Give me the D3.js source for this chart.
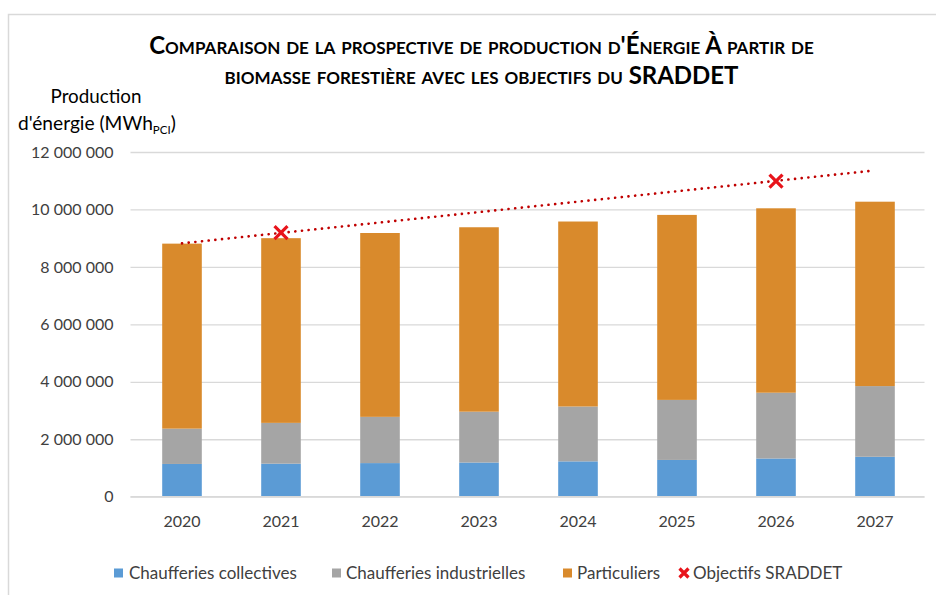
<!DOCTYPE html>
<html>
<head>
<meta charset="utf-8">
<script src="https://cdn.jsdelivr.net/npm/d3@7"></script>
<style>
  body { margin: 0; background: #fff; }
  svg { font-family: Lato, "Open Sans", sans-serif; }
</style>
</head>
<body>
<div id="chart"></div>
<script>
// data (MWh PCI)
const years = ['2020', '2021', '2022', '2023', '2024', '2025', '2026', '2027'];
const collectives = [1140000, 1150000, 1170000, 1190000, 1230000, 1280000, 1330000, 1390000];
const industrielles = [1230000, 1420000, 1610000, 1770000, 1910000, 2090000, 2290000, 2460000];
const particuliers = [6440000, 6430000, 6400000, 6420000, 6440000, 6440000, 6420000, 6420000];
const sraddetYears = ['2021', '2026'];
const sraddetValues = [9190000, 10990000];
// dotted trend line of the objectives (end points)
const trendYears = ['2020', '2027'];
const trendValues = [8820000, 11340000];
const yTicks = [0, 2000000, 4000000, 6000000, 8000000, 10000000, 12000000];

const seriesNames = ['Chaufferies collectives', 'Chaufferies industrielles', 'Particuliers'];
const colours = ['#5b9bd5', '#a5a5a5', '#d98a2c'];

const width = 936;
const height = 595;
const plot = {left: 132.5, right: 924.5, top: 152, bottom: 496.7};

const svg = d3.select('#chart').append('svg')
    .attr('width', width)
    .attr('height', height);

// scale a text's font so that it spans the given width
function fitWidth(sel, target) {
    const w = sel.node().getComputedTextLength();
    const fs = parseFloat(sel.attr('font-size'));
    sel.attr('font-size', (fs * target / w).toFixed(2) + 'px');
    return fs * target / w;
}

// outer frame
svg.append('path')
    .attr('d', `M8.5,${height} V14.5 H${width}`)
    .attr('fill', 'none')
    .attr('stroke', '#d9d9d9')
    .attr('stroke-width', 1.5);

// SCALES
const x = d3.scaleBand()
    .domain(years)
    .range([plot.left, plot.right])
    .paddingInner(0.6)
    .paddingOuter(0.3);
const y = d3.scaleLinear()
    .domain([0, 12000000])
    .range([plot.bottom, plot.top]);

const fmt = v => d3.format(',')(v).replace(/,/g, ' ');

// y axis + grid
svg.append('g')
    .attr('transform', `translate(${plot.left - 2},0)`)
    .call(d3.axisLeft(y).tickValues(yTicks).tickSize(-(plot.right - plot.left + 2)).tickPadding(17).tickFormat(fmt))
    .call(g => g.select('.domain').remove())
    .call(g => g.selectAll('.tick line').attr('stroke', '#d9d9d9').attr('stroke-width', 1.3))
    .call(g => g.selectAll('.tick text')
        .attr('fill', '#404040')
        .attr('font-size', '16px')
        .attr('font-family', 'Lato'));

// x axis
svg.append('g')
    .attr('transform', `translate(0,${plot.bottom})`)
    .call(d3.axisBottom(x).tickSize(0).tickPadding(19))
    .call(g => g.select('.domain').remove())
    .call(g => g.selectAll('.tick text')
        .attr('fill', '#404040')
        .attr('font-size', '16px')
        .attr('font-family', 'Lato'));

// STACKED BARS
const rows = years.map((yr, i) => ({
    year: yr,
    c: collectives[i],
    ind: industrielles[i],
    p: particuliers[i]
}));
const stack = d3.stack().keys(['c', 'ind', 'p'])(rows);

svg.append('g')
    .selectAll('g')
    .data(stack)
    .join('g')
        .attr('fill', (d, i) => colours[i])
    .selectAll('rect')
    .data(d => d)
    .join('rect')
        .attr('x', d => x(d.data.year))
        .attr('y', d => y(d[1]))
        .attr('width', x.bandwidth())
        .attr('height', d => y(d[0]) - y(d[1]));

// zero line
svg.append('line')
    .attr('x1', plot.left - 2)
    .attr('x2', plot.right)
    .attr('y1', y(0))
    .attr('y2', y(0))
    .attr('stroke', '#d9d9d9')
    .attr('stroke-width', 1.5);

// trend line of the objectives
const cx = yr => x(yr) + x.bandwidth() / 2;
svg.append('path')
    .datum(trendYears.map((yr, i) => [cx(yr) - (i === 1 ? 5 : 0), y(trendValues[i])]))
    .attr('d', d3.line())
    .attr('fill', 'none')
    .attr('stroke', '#c00000')
    .attr('stroke-width', 2.6)
    .attr('stroke-linecap', 'round')
    .attr('stroke-dasharray', '0.1 6.6');

// X markers
const cross = (g, s) => g
    .attr('d', `M${-s},${-s}L${s},${s}M${-s},${s}L${s},${-s}`)
    .attr('fill', 'none')
    .attr('stroke', '#e8141b')
    .attr('stroke-width', 3.2);

svg.append('g')
    .selectAll('path')
    .data(sraddetYears)
    .join('path')
        .attr('transform', (d, i) => `translate(${cx(d)},${y(sraddetValues[i])})`)
        .call(cross, 6.5);

// TITLE (small caps)
const t1 = svg.append('text')
    .attr('x', 481.5).attr('y', 53.5)
    .attr('text-anchor', 'middle')
    .attr('font-weight', 'bold')
    .attr('font-size', '20px')
    .style('font-variant', 'small-caps')
    .text("Comparaison de la prospective de production d'Énergie À partir de");
const titleSize = fitWidth(t1, 657);
svg.append('text')
    .attr('x', 481.5).attr('y', 83.5)
    .attr('text-anchor', 'middle')
    .attr('font-weight', 'bold')
    .attr('font-size', titleSize + 'px')
    .style('font-variant', 'small-caps')
    .text('biomasse forestière avec les objectifs du SRADDET');

// y axis title
const yt = svg.append('text')
    .attr('x', 96).attr('y', 102.7)
    .attr('text-anchor', 'middle')
    .attr('font-size', '18px')
    .text('Production');
fitWidth(yt, 91);
const yt2 = svg.append('text')
    .attr('font-size', '18px')
    .attr('x', 18)
    .attr('y', 130);
yt2.append('tspan').text("d'énergie (MWh");
yt2.append('tspan').attr('font-size', '11.5px').attr('dy', 4).text('PCI');
yt2.append('tspan').attr('dy', -4).text(')');
fitWidth(yt2, 159);

// LEGEND
const legendItems = [
    {name: seriesNames[0], colour: colours[0], x: 114, tx: 129},
    {name: seriesNames[1], colour: colours[1], x: 332, tx: 346},
    {name: seriesNames[2], colour: colours[2], x: 563, tx: 577},
    {name: 'Objectifs SRADDET', colour: null, x: 679, tx: 693}
];
const legend = svg.append('g')
    .attr('transform', 'translate(0,573)');
const first = legend.append('text')
    .attr('font-size', '16px')
    .text(legendItems[0].name);
const legendSize = fitWidth(first, 168);
first.remove();
legendItems.forEach(it => {
    if (it.colour) {
        legend.append('rect')
            .attr('x', it.x)
            .attr('y', -4.5)
            .attr('width', 9)
            .attr('height', 9)
            .attr('fill', it.colour);
    } else {
        legend.append('path')
            .attr('transform', `translate(${it.x + 5},0)`)
            .call(cross, 4.5);
    }
    legend.append('text')
        .attr('x', it.tx)
        .attr('y', 6)
        .attr('font-size', legendSize + 'px')
        .attr('fill', '#404040')
        .text(it.name);
});
</script>
</body>
</html>
